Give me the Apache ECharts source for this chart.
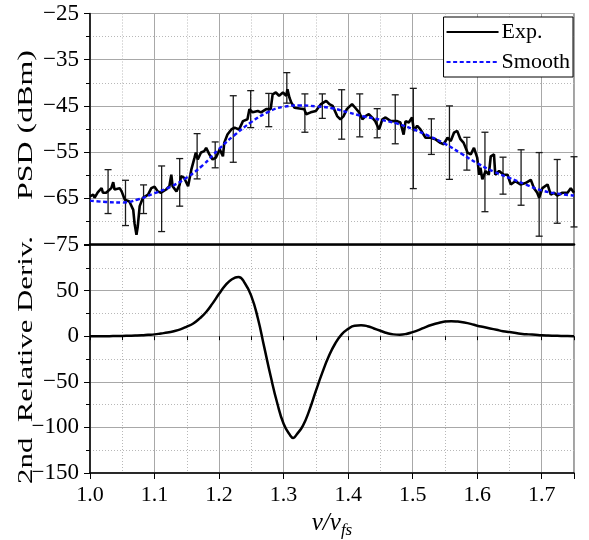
<!DOCTYPE html>
<html>
<head>
<meta charset="utf-8">
<script src="https://cdn.jsdelivr.net/npm/echarts@6/dist/echarts.min.js"></script>
<style>html,body{margin:0;padding:0;background:#fff}#c{width:589px;height:540px}</style>
</head>
<body>
<div id="c"></div>
<script>
// ---- data ----
const xExp = [1.000,1.005,1.007,1.012,1.018,1.020,1.025,1.033,1.036,1.038,
1.046,1.049,1.054,1.056,1.061,1.067,1.069,1.072,1.074,1.077,
1.082,1.090,1.095,1.100,1.105,1.110,1.118,1.123,1.126,1.128,
1.134,1.139,1.141,1.146,1.152,1.157,1.162,1.164,1.167,1.172,
1.177,1.180,1.185,1.190,1.195,1.201,1.206,1.208,1.213,1.219,
1.224,1.231,1.237,1.244,1.247,1.252,1.260,1.265,1.273,1.280,
1.283,1.288,1.293,1.299,1.304,1.306,1.309,1.312,1.317,1.327,
1.332,1.335,1.342,1.350,1.358,1.366,1.371,1.376,1.378,1.383,
1.388,1.393,1.398,1.406,1.411,1.417,1.422,1.427,1.432,1.437,
1.442,1.448,1.453,1.458,1.466,1.476,1.481,1.486,1.489,1.494,
1.499,1.502,1.507,1.512,1.520,1.528,1.535,1.543,1.548,1.554,
1.559,1.564,1.569,1.574,1.579,1.585,1.590,1.595,1.600,1.603,
1.605,1.608,1.613,1.618,1.621,1.626,1.628,1.634,1.641,1.647,
1.652,1.659,1.667,1.675,1.683,1.688,1.693,1.696,1.701,1.709,
1.714,1.719,1.724,1.732,1.740,1.745,1.750];
const yExp = [-64.6,-64.2,-64.9,-63.7,-62.8,-63.8,-63.8,-62.8,-61.5,-63.1,
-62.8,-63.5,-65.3,-64.9,-65.7,-67.5,-70.4,-72.9,-71.1,-66.7,
-64.9,-64.2,-62.8,-62.5,-63.5,-63.8,-63.1,-62.4,-59.9,-62.4,
-63.5,-62.0,-60.2,-60.6,-62.4,-58.8,-56.2,-55.1,-56.6,-55.1,
-54.8,-54.1,-55.5,-56.6,-56.2,-54.4,-55.9,-53.0,-51.2,-50.1,
-49.7,-50.1,-48.3,-47.9,-45.7,-46.4,-46.1,-46.4,-45.7,-45.7,
-42.5,-42.1,-42.8,-42.1,-42.8,-41.4,-43.2,-44.3,-45.4,-45.6,
-45.7,-46.8,-46.4,-46.1,-44.6,-43.9,-44.6,-45.0,-45.4,-47.2,
-47.9,-47.2,-45.7,-44.6,-45.4,-46.4,-47.9,-47.2,-46.8,-47.5,
-48.3,-50.1,-47.9,-47.5,-48.3,-48.3,-48.6,-51.2,-48.3,-48.6,
-47.5,-50.4,-49.3,-50.1,-51.9,-51.9,-52.2,-53.0,-53.3,-51.9,
-52.6,-50.8,-50.4,-52.2,-53.0,-55.1,-55.5,-54.1,-56.2,-59.9,
-58.4,-60.9,-59.1,-59.9,-55.9,-55.5,-59.9,-59.1,-59.9,-59.9,
-62.0,-61.3,-62.0,-61.7,-61.0,-62.8,-63.8,-64.9,-62.8,-62.0,
-64.2,-63.8,-64.4,-63.8,-63.8,-62.8,-63.8];

const xSmooth = [1.000,1.025,1.050,1.075,1.100,1.125,1.150,1.175,1.200,1.225,
1.250,1.275,1.300,1.325,1.350,1.375,1.400,1.425,1.450,1.475,
1.500,1.525,1.550,1.575,1.600,1.625,1.650,1.675,1.700,1.725,1.750];
const ySmooth = [-65.5,-65.8,-65.9,-65.2,-63.9,-62.5,-60.5,-57.8,-54.3,-51.2,
-48.5,-46.4,-45.2,-44.9,-45.1,-45.5,-46.4,-47.3,-48.0,-48.8,
-50.0,-51.5,-53.2,-55.3,-57.4,-59.2,-60.6,-62.0,-63.3,-64.0,-64.4];

const errX = [1.028,1.055,1.083,1.111,1.139,1.166,1.194,1.222,1.249,1.277,
1.305,1.333,1.360,1.390,1.418,1.445,1.473,1.501,1.529,1.557,
1.584,1.612,1.640,1.668,1.696,1.724,1.750];
const errHigh = [-58.8,-61.1,-62.1,-58.0,-56.4,-51.0,-52.8,-42.8,-41.7,-42.3,
-37.8,-42.4,-42.4,-41.5,-42.4,-45.6,-42.6,-41.2,-47.8,-45.0,
-51.8,-50.7,-56.1,-54.5,-55.1,-56.6,-56.0];
const errLow = [-68.3,-70.9,-68.3,-72.2,-66.7,-60.8,-58.4,-57.2,-49.7,-49.5,
-44.4,-50.7,-47.7,-52.2,-51.7,-51.9,-53.2,-62.9,-55.5,-60.9,
-58.9,-67.9,-64.1,-66.5,-73.2,-70.4,-71.2];

const xDeriv = [1.00,1.01,1.02,1.03,1.04,1.05,1.06,1.07,1.08,1.09,
1.10,1.11,1.12,1.13,1.14,1.15,1.16,1.17,1.18,1.19,
1.20,1.21,1.22,1.23,1.24,1.25,1.26,1.27,1.28,1.29,
1.30,1.31,1.315,1.32,1.33,1.34,1.35,1.36,1.37,1.38,1.39,
1.40,1.41,1.42,1.43,1.44,1.45,1.46,1.47,1.48,1.49,
1.50,1.51,1.52,1.53,1.54,1.55,1.56,1.57,1.58,1.59,
1.60,1.61,1.62,1.63,1.64,1.65,1.66,1.67,1.68,1.69,
1.70,1.71,1.72,1.73,1.74,1.75];
const yDeriv = [0,0,0,0,0.2,0.3,0.5,0.7,1,1.5,
2,3,4,5.5,7.5,10.5,14,19.5,26.5,36,
46.5,56,62.5,65,58,44,20,-12,-44,-73,
-96,-108.5,-111.5,-108,-98,-81,-60,-40,-22,-8,2,
8,11.5,12,11,8.5,6,3.5,2,1.7,2.5,
4.5,7,10,12.5,14.5,16,16.5,16,15,13.5,
11.5,10,8.5,7,5.5,4.5,3.5,2.5,2,1.5,
1,0.7,0.5,0.3,0.2,0];

const xTickLabels = ['1.0','1.1','1.2','1.3','1.4','1.5','1.6','1.7'];
const yTopTicks = [-75, -65, -55, -45, -35, -25];
const yBotTicks = [-150, -100, -50, 0, 50];
const yTopTitle = 'PSD (dBm)';
const yBotTitle = '2nd  Relative Deriv.';

// ---- chart ----
const FONT = '"Liberation Serif","Times New Roman",serif';
const pairs = (xs, ys) => xs.slice(0, Math.min(xs.length, ys.length)).map((x, i) => [x, ys[i]]);
const errData = errX.map((x, i) => [x, errLow[i], errHigh[i]]);
const fmtNum = v => (v < 0 ? '\u2212' : '') + String(Math.abs(v));

function minorX(grid, withTicks) {
  return {
    gridIndex: grid, type: 'value', min: 1.0, max: 1.75, interval: 0.05, position: 'bottom',
    axisLine: { show: false },
    axisTick: { show: withTicks, inside: false, length: 4, lineStyle: { color: '#000', width: 1 } },
    axisLabel: { show: false },
    splitLine: { show: true, lineStyle: { type: [1, 2], color: '#b8b8b8', width: 1 } }
  };
}
function majorX(grid, labels) {
  return {
    gridIndex: grid, type: 'value', min: 1.0, max: 1.75, interval: 0.1, position: 'bottom',
    axisLine: { show: true, onZero: false, lineStyle: { color: '#000', width: labels ? 1.5 : 2.6 } },
    axisTick: { show: labels, inside: false, length: 6, lineStyle: { color: '#000', width: 1 } },
    axisLabel: {
      show: labels, fontFamily: FONT, fontSize: 22, color: '#000', margin: 11,
      formatter: v => { const i = Math.round((v - 1) * 10); return (Math.abs((v - 1) * 10 - i) < 1e-6 && i < xTickLabels.length) ? xTickLabels[i] : ''; }
    },
    splitLine: { show: true, lineStyle: { color: '#a8a8a8', width: 1 } },
    name: labels ? '{a|v/v}{b|fs}' : '',
    nameLocation: 'middle', nameGap: 35,
    nameTextStyle: {
      rich: {
        a: { fontFamily: FONT, fontStyle: 'italic', fontSize: 25, color: '#000' },
        b: { fontFamily: FONT, fontStyle: 'italic', fontSize: 17, color: '#000', padding: [14, 0, 0, 0] }
      }
    }
  };
}
function yAx(grid, min, max, interval, ticks) {
  return {
    gridIndex: grid, type: 'value', min: min, max: max, interval: interval,
    axisLine: { show: true, onZero: false, lineStyle: { color: '#000', width: 1.5 } },
    axisTick: { show: true, inside: false, length: 6, lineStyle: { color: '#000' } },
    minorTick: { show: true, splitNumber: 2, length: 4, lineStyle: { color: '#000' } },
    axisLabel: {
      fontFamily: FONT, fontSize: 23, color: '#000', margin: 11,
      formatter: v => ticks.some(t => Math.abs(t - v) < 1e-6) ? fmtNum(v) : ''
    },
    splitLine: { show: true, lineStyle: { color: '#a8a8a8', width: 1 } },
    minorSplitLine: { show: true, lineStyle: { type: [1, 2], color: '#b8b8b8', width: 1 } }
  };
}

const chart = echarts.init(document.getElementById('c'), null, { renderer: 'canvas' });
chart.setOption({
  animation: false,
  backgroundColor: '#fff',
  grid: [
    { left: 90, top: 13.5, width: 484, height: 231, show: true, borderColor: '#444', borderWidth: 1, backgroundColor: 'transparent' },
    { left: 90, top: 245, width: 484, height: 231, show: true, borderColor: '#444', borderWidth: 1, backgroundColor: 'transparent' }
  ],
  xAxis: [minorX(0, false), majorX(0, false), minorX(1, true), majorX(1, true)],
  yAxis: [
    yAx(0, -75, -25, 10, yTopTicks),
    yAx(1, -150, 100, 50, yBotTicks)
  ],
  legend: {
    right: 16, top: 17, orient: 'vertical', align: 'left',
    data: ['Exp.', 'Smooth'],
    backgroundColor: '#fff', borderColor: '#000', borderWidth: 1,
    padding: [4, 3, 4, 2], itemGap: 8, itemWidth: 52, itemHeight: 14,
    itemStyle: { opacity: 0, color: 'rgba(0,0,0,0)', borderWidth: 0 },
    textStyle: { fontFamily: FONT, fontSize: 22, color: '#000', padding: [0, 0, 0, -2] }
  },
  graphic: [
    { type: 'text', x: 26, y: 125, rotation: Math.PI / 2, scaleX: 1.45,
      style: { text: yTopTitle, font: '22px "Liberation Serif"', fill: '#000', align: 'center', verticalAlign: 'middle' } },
    { type: 'text', x: 26, y: 360, rotation: Math.PI / 2, scaleX: 1.4,
      style: { text: yBotTitle, font: '22px "Liberation Serif"', fill: '#000', align: 'center', verticalAlign: 'middle' } }
  ],
  series: [
    {
      name: 'Error', type: 'custom', xAxisIndex: 1, yAxisIndex: 0, data: errData,
      encode: { x: 0, y: [1, 2] }, z: 3,
      renderItem: (params, api) => {
        const x = api.value(0), lo = api.value(1), hi = api.value(2);
        const a = api.coord([x, hi]), b = api.coord([x, lo]);
        const w = 3.5;
        const st = { stroke: '#1a1a1a', lineWidth: 1.3 };
        return {
          type: 'group', children: [
            { type: 'line', shape: { x1: a[0], y1: a[1], x2: b[0], y2: b[1] }, style: st },
            { type: 'line', shape: { x1: a[0] - w, y1: a[1], x2: a[0] + w, y2: a[1] }, style: st },
            { type: 'line', shape: { x1: b[0] - w, y1: b[1], x2: b[0] + w, y2: b[1] }, style: st }
          ]
        };
      }
    },
    {
      name: 'Exp.', type: 'line', xAxisIndex: 1, yAxisIndex: 0, data: pairs(xExp, yExp),
      symbol: 'none', z: 4, lineStyle: { color: '#000', width: 2.6 }, itemStyle: { color: '#000' }
    },
    {
      name: 'Smooth', type: 'line', xAxisIndex: 1, yAxisIndex: 0, data: pairs(xSmooth, ySmooth),
      symbol: 'none', smooth: true, z: 5, lineStyle: { color: '#1010ff', width: 2.4, type: [4, 2.6] }, itemStyle: { color: '#1010ff' }
    },
    {
      name: 'Deriv', type: 'line', xAxisIndex: 3, yAxisIndex: 1, data: pairs(xDeriv, yDeriv),
      symbol: 'none', smooth: true, z: 4, lineStyle: { color: '#000', width: 2.5 }
    }
  ]
});
</script>
</body>
</html>
